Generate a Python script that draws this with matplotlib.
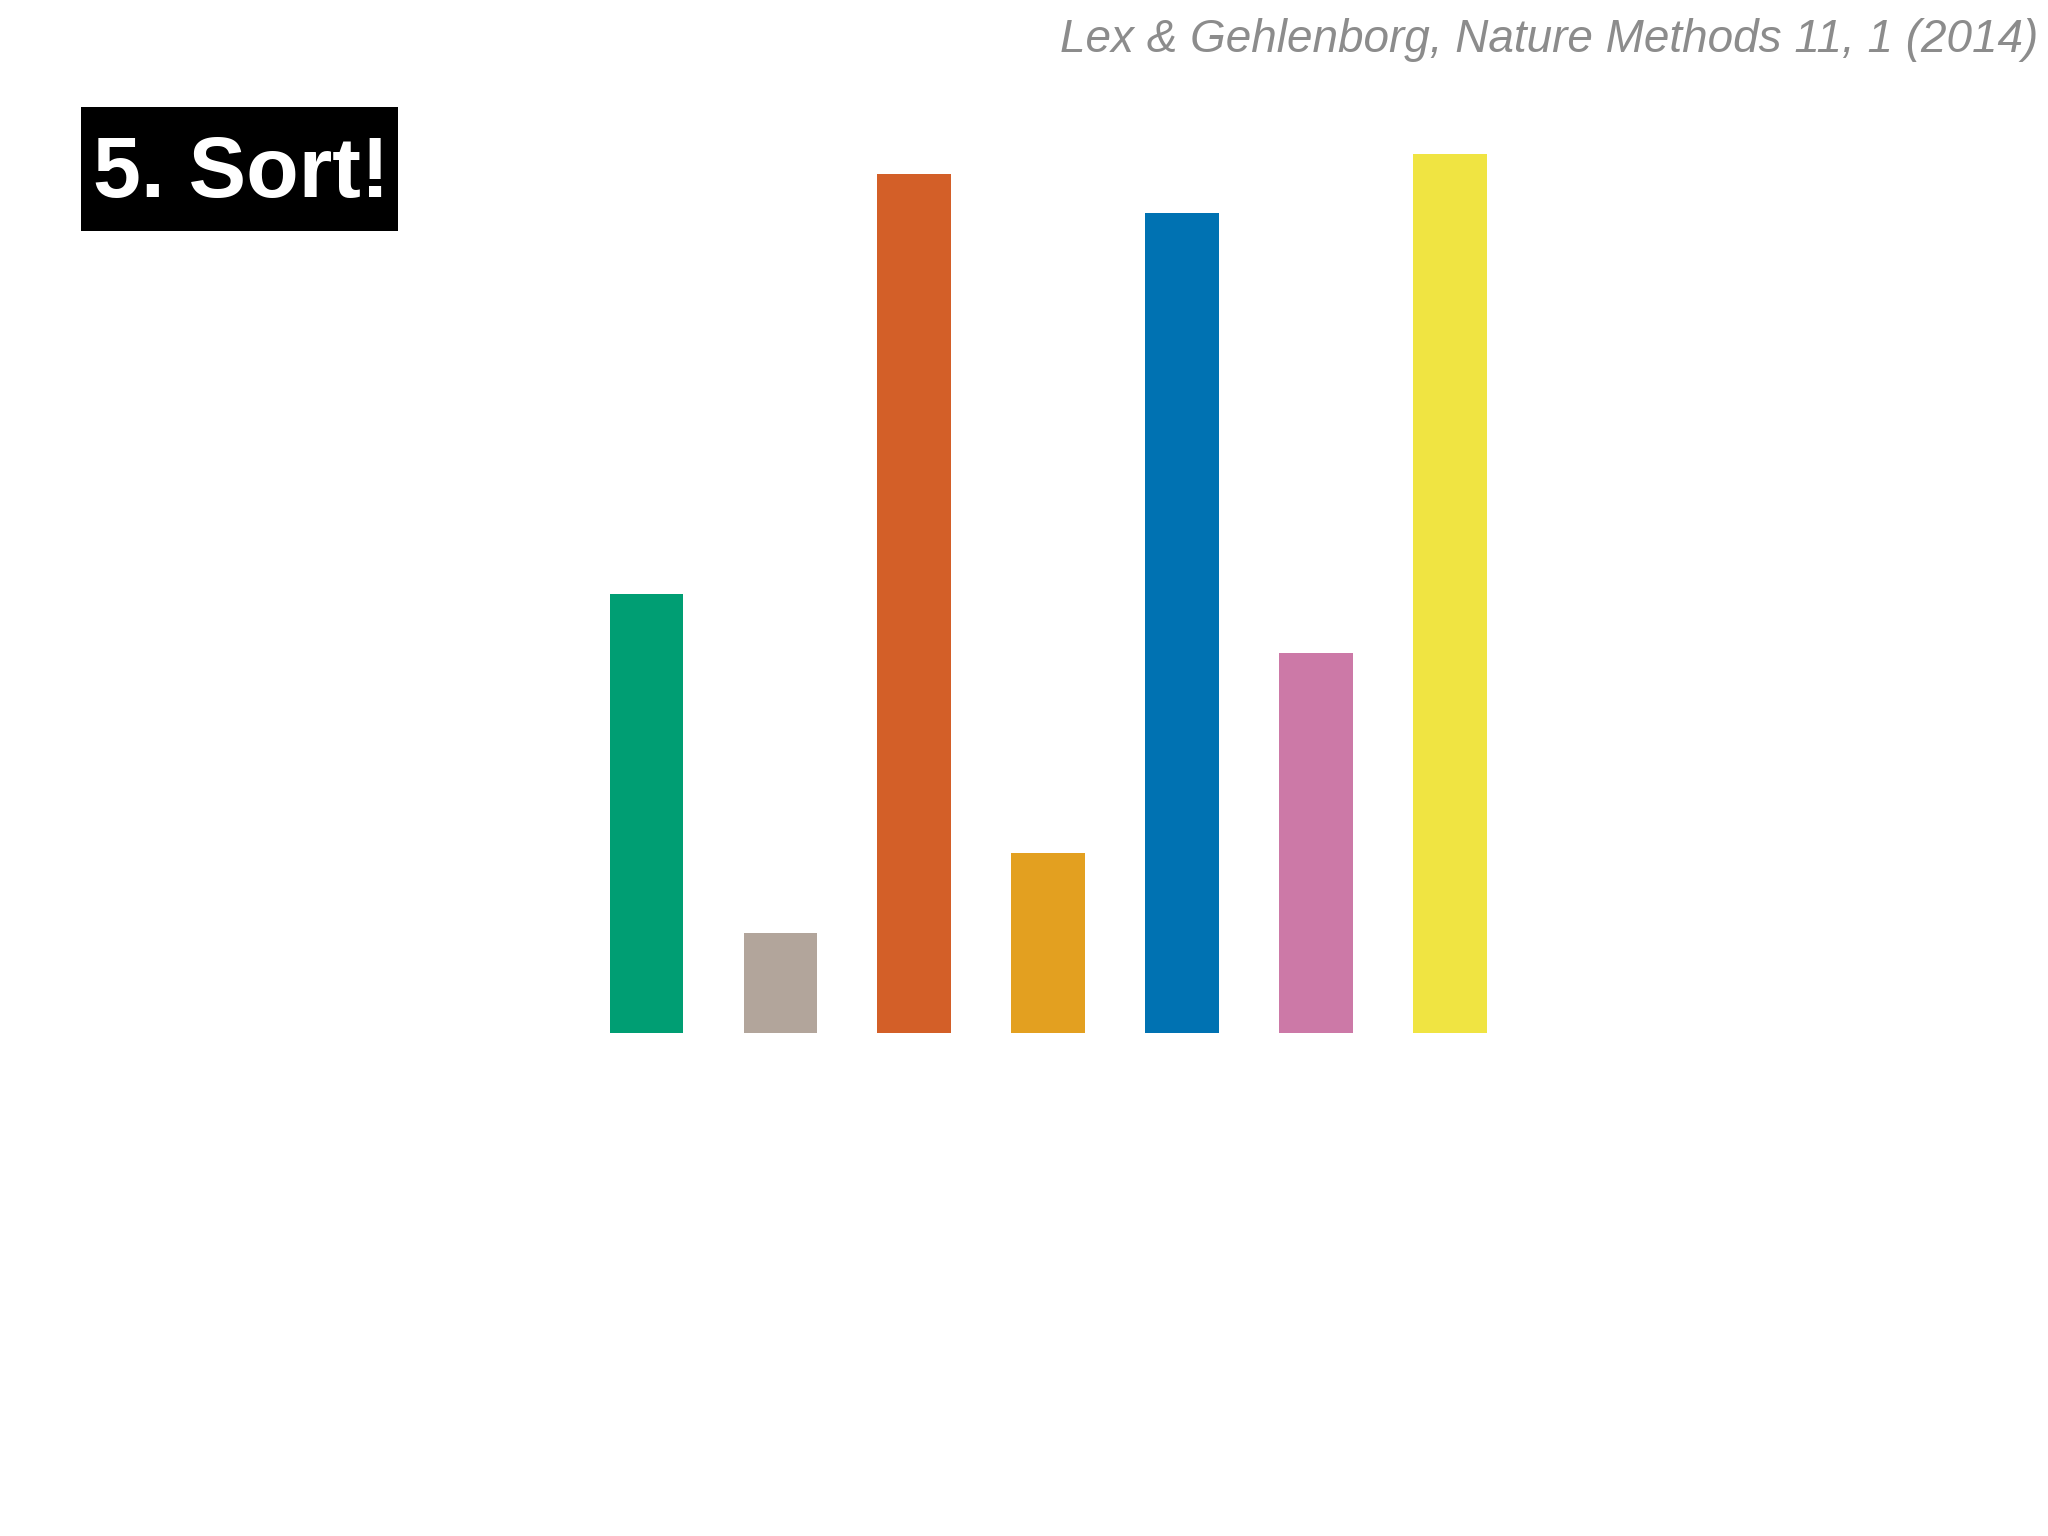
"""Sorted-bars slide: seven coloured bars with a title badge and citation."""

import matplotlib.pyplot as plt
from matplotlib.patches import Rectangle

# bar heights (arbitrary units)
categories = ["A", "B", "C", "D", "E", "F", "G"]
values = [439, 100, 859, 180, 820, 380, 879]
colors = ["#009E73", "#B2A59B", "#D35F28", "#E3A020", "#0072B2", "#CC79A7", "#F0E442"]

title = "5. Sort!"
citation = "Lex & Gehlenborg, Nature Methods 11, 1 (2014)"


def main() -> None:
    """Draw the chart and save it."""
    fig = plt.figure(figsize=(20.48, 15.36), dpi=100)
    ax = fig.add_axes([0, 0, 1, 1])
    xs = list(range(len(categories)))
    ax.bar(xs, values, width=0.55, color=colors)
    ax.set_xlim(-4.828, 10.467)
    ax.set_ylim(-503, 1033)
    ax.axis("off")

    # title badge
    fig.patches.append(
        Rectangle((0.0396, 0.8496), 0.1548, 0.0807, transform=fig.transFigure,
                  facecolor="black", edgecolor="none")
    )
    fig.text(0.118, 0.886, title, color="white", fontsize=62, fontweight="bold",
             family="Liberation Sans", ha="center", va="center")

    fig.text(0.995, 0.974, citation, color="#8C8C8C", fontsize=33,
             style="italic", family="Liberation Sans", ha="right", va="center")

    fig.savefig("out.png", dpi=100, facecolor="white")


if __name__ == "__main__":
    main()
